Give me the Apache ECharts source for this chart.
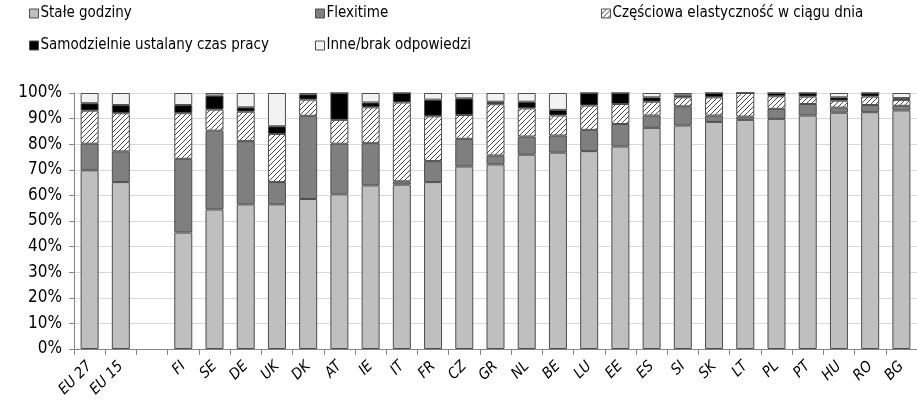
<!DOCTYPE html>
<html>
<head>
<meta charset="utf-8">
<script src="https://cdn.jsdelivr.net/npm/echarts@6/dist/echarts.min.js"></script>
<style>
  html, body { margin: 0; padding: 0; background: #fff; }
  #chart { width: 917px; height: 407px; }
</style>
</head>
<body>
<div id="chart"></div>
<script>
// Country groups and countries (empty slot separates EU aggregates from countries)
const categories = ['EU 27', 'EU 15', '', 'FI', 'SE', 'DE', 'UK', 'DK', 'AT', 'IE', 'IT', 'FR', 'CZ',
  'GR', 'NL', 'BE', 'LU', 'EE', 'ES', 'SI', 'SK', 'LT', 'PL', 'PT', 'HU', 'RO', 'BG'];

// Shares of employees (%) by working-time arrangement
const staleGodziny = [69.8, 65.2, '-', 45.5, 54.5, 56.5, 56.5, 58.6, 60.4, 63.9, 64.2, 65.2, 71.3,
  72.1, 75.9, 76.7, 77.3, 79.1, 86.4, 87.3, 88.7, 89.5, 89.9, 91.2, 92.3, 92.5, 93.2];
const flexitime = [10.4, 12.0, '-', 28.8, 30.8, 24.7, 8.7, 32.5, 19.8, 16.5, 1.3, 8.2, 10.8,
  3.5, 7.1, 6.7, 8.3, 8.8, 4.8, 7.5, 2.5, 1.3, 3.9, 4.5, 2.0, 2.8, 1.8];
const czesciowa = [12.9, 14.9, '-', 17.8, 8.2, 11.5, 18.8, 6.3, 9.3, 14.0, 30.8, 17.5, 9.3,
  20.0, 11.0, 7.8, 9.5, 7.8, 5.4, 3.5, 7.1, 9.2, 4.9, 2.9, 2.7, 3.3, 2.3];
const samodzielnie = [2.9, 3.2, '-', 3.2, 5.5, 1.7, 3.0, 2.1, 10.5, 1.9, 3.7, 6.5, 6.5,
  1.0, 2.6, 2.2, 4.9, 4.3, 1.7, 0.8, 1.7, 0, 1.3, 1.4, 1.3, 1.4, 0.7];
const inne = [4.0, 4.7, '-', 4.7, 1.0, 5.6, 13.0, 0.5, 0, 3.7, 0, 2.6, 2.1,
  3.4, 3.4, 6.6, 0, 0, 1.7, 0.9, 0, 0, 0, 0, 1.7, 0, 2.0];

const yTicks = [0, 10, 20, 30, 40, 50, 60, 70, 80, 90, 100];

const FONT = "'DejaVu Sans Condensed', 'Liberation Sans', sans-serif";
const BORDER = '#4d4d4d';

// Diagonal hatch fill for the partial-flexibility segment
function hatchPattern() {
  const size = 5;
  const c = document.createElement('canvas');
  c.width = size; c.height = size;
  const ctx = c.getContext('2d');
  ctx.fillStyle = '#ffffff';
  ctx.fillRect(0, 0, size, size);
  ctx.strokeStyle = '#333333';
  ctx.lineWidth = 0.9;
  ctx.beginPath();
  ctx.moveTo(-1, size + 1); ctx.lineTo(size + 1, -1);
  ctx.moveTo(-1, 1); ctx.lineTo(1, -1);
  ctx.moveTo(size - 1, size + 1); ctx.lineTo(size + 1, size - 1);
  ctx.stroke();
  return { image: c, repeat: 'repeat' };
}

function barSeries(name, data, color) {
  return {
    name: name,
    type: 'bar',
    stack: 'total',
    barWidth: 18,
    data: data,
    itemStyle: { color: color, borderColor: BORDER, borderWidth: 1 },
    emphasis: { disabled: true }
  };
}

const seriesNames = ['Stałe godziny', 'Flexitime', 'Częściowa elastyczność w ciągu dnia',
  'Samodzielnie ustalany czas pracy', 'Inne/brak odpowiedzi'];

function legendAt(name, left, top) {
  return {
    data: [name],
    left: left,
    top: top,
    padding: 0,
    itemWidth: 9,
    itemHeight: 9,
    itemGap: 3,
    icon: 'rect',
    selectedMode: false,
    itemStyle: { borderColor: BORDER, borderWidth: 1 },
    textStyle: { fontFamily: FONT, fontSize: 15, color: '#000', padding: [0, 0, 0, -3] }
  };
}

const chart = echarts.init(document.getElementById('chart'), null, { renderer: 'canvas' });

chart.setOption({
  animation: false,
  backgroundColor: '#ffffff',
  legend: [
    legendAt(seriesNames[0], 29, 6),
    legendAt(seriesNames[1], 315, 6),
    legendAt(seriesNames[2], 601, 6),
    legendAt(seriesNames[3], 29, 38),
    legendAt(seriesNames[4], 315, 38)
  ],
  grid: { left: 74, right: -7, top: 93, bottom: 58, containLabel: false },
  xAxis: {
    type: 'category',
    data: categories,
    axisLine: { lineStyle: { color: '#868686', width: 1 } },
    axisTick: { show: true, alignWithLabel: false, length: 6, lineStyle: { color: '#868686' } },
    axisLabel: {
      rotate: 45,
      interval: 0,
      margin: 15,
      fontFamily: FONT,
      fontSize: 15,
      fontStyle: 'italic',
      color: '#000'
    }
  },
  yAxis: {
    type: 'value',
    min: 0,
    max: 100,
    interval: 10,
    axisLine: { show: true, lineStyle: { color: '#868686', width: 1 } },
    axisTick: { show: true, length: 5, lineStyle: { color: '#868686' } },
    splitLine: { lineStyle: { color: '#d9d9d9', width: 1 } },
    axisLabel: {
      margin: 12,
      fontFamily: FONT,
      fontSize: 17,
      color: '#000',
      formatter: function (v) { return yTicks.indexOf(v) >= 0 ? v + '%' : ''; }
    }
  },
  series: [
    barSeries(seriesNames[0], staleGodziny, '#bfbfbf'),
    barSeries(seriesNames[1], flexitime, '#7f7f7f'),
    barSeries(seriesNames[2], czesciowa, hatchPattern()),
    barSeries(seriesNames[3], samodzielnie, '#000000'),
    barSeries(seriesNames[4], inne, '#f2f2f2')
  ]
});
</script>
</body>
</html>
